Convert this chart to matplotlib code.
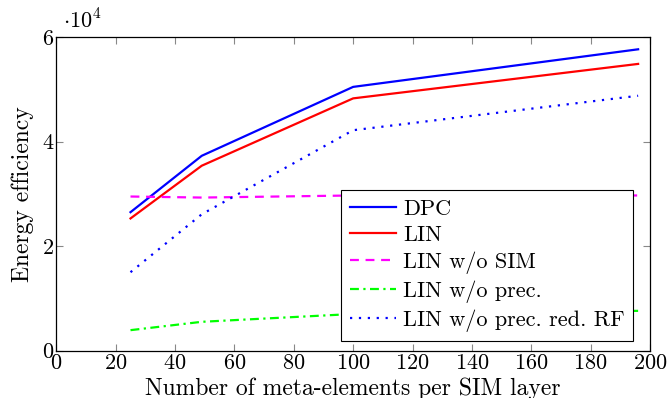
import matplotlib
matplotlib.use("Agg")
import matplotlib.pyplot as plt

plt.rcParams['font.family'] = 'serif'
plt.rcParams['font.serif'] = ['cmr10', 'DejaVu Serif']
plt.rcParams['mathtext.fontset'] = 'cm'
plt.rcParams['axes.formatter.use_mathtext'] = True

# meta-elements per SIM layer
n_elem = [25, 49, 100, 196]

dpc = [26500, 37300, 50500, 57700]
lin = [25300, 35400, 48300, 54900]
lin_no_sim = [29500, 29300, 29700, 29700]
lin_no_prec = [3900, 5500, 7000, 7600]
lin_no_prec_rf = [15000, 26100, 42200, 48800]

fig = plt.figure(figsize=(6.71, 3.98), dpi=100)
ax = fig.add_axes([0.0839, 0.1193, 0.8848, 0.787])

ax.plot(n_elem, dpc, color='blue', lw=1.6, label='DPC')
ax.plot(n_elem, lin, color='red', lw=1.6, label='LIN')
ax.plot(n_elem, lin_no_sim, color='magenta', lw=1.6, ls=(0, (4, 3)), label='LIN w/o SIM')
ax.plot(n_elem, lin_no_prec, color='lime', lw=1.6, ls=(0, (4, 2, 1, 2)), label='LIN w/o prec.')
ax.plot(n_elem, lin_no_prec_rf, color='blue', lw=1.6, ls=(0, (1, 3)), label='LIN w/o prec. red. RF')

ax.set_xlim(0, 200)
ax.set_ylim(0, 60000)
ax.set_xticks(range(0, 201, 20))
ax.set_yticks([0, 20000, 40000, 60000])
ax.set_yticklabels(['0', '2', '4', '6'])
ax.tick_params(direction='in', top=True, right=True, length=5, width=0.8,
               color='#888888', labelsize=16, pad=2)
for s in ax.spines.values():
    s.set_linewidth(0.9)
    s.set_color('black')

ax.text(0.012, 1.015, r'$\cdot 10^4$', transform=ax.transAxes, fontsize=16,
        ha='left', va='bottom')

ax.set_xlabel('Number of meta-elements per SIM layer', fontsize=17, labelpad=3.5)
ax.set_ylabel('Energy efficiency', fontsize=17, labelpad=6)

leg = ax.legend(loc='lower right', bbox_to_anchor=(0.972, 0.03), fontsize=16,
                fancybox=False, framealpha=1, edgecolor='black',
                handlelength=2.1, handletextpad=0.3, labelspacing=0.3,
                borderpad=0.4, borderaxespad=0)
leg.get_frame().set_linewidth(0.8)

fig.savefig('out.png', dpi=100)
